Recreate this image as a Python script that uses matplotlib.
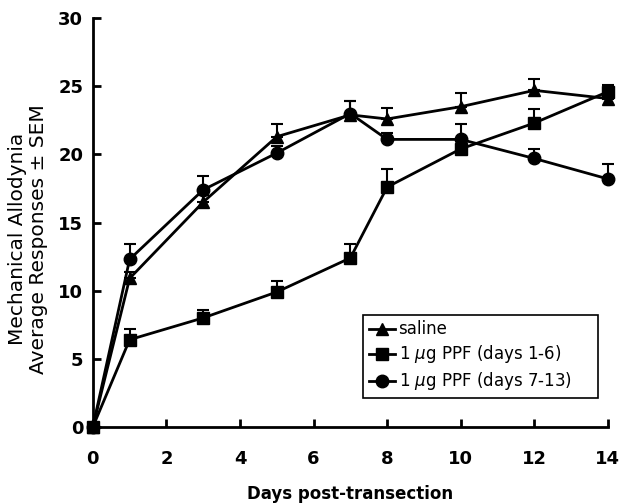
import matplotlib
matplotlib.use("Agg")
import matplotlib.pyplot as plt
import numpy as np

days = [0, 1, 3, 5, 7, 8, 10, 12, 14]
saline = [0, 10.9, 16.5, 21.3, 22.9, 22.6, 23.5, 24.7, 24.1]
saline_err = [0, 0.5, 0.5, 0.9, 1.0, 0.8, 1.0, 0.8, 0.5]
ppf_1_6 = [0, 6.4, 8.0, 9.9, 12.4, 17.6, 20.4, 22.3, 24.6]
ppf_1_6_err = [0, 0.8, 0.6, 0.8, 1.0, 1.3, 0.6, 1.0, 0.5]
ppf_7_13 = [0, 12.3, 17.4, 20.1, 23.0, 21.1, 21.1, 19.7, 18.2]
ppf_7_13_err = [0, 1.1, 1.0, 0.5, 0.9, 0.5, 1.1, 0.7, 1.1]

labels = ["saline", "1 $\\mu$g PPF (days 1-6)", "1 $\\mu$g PPF (days 7-13)"]

plt.rcParams['font.family'] = ['DejaVu Sans']
fig = plt.figure(figsize=(6.19, 5.04), dpi=100)
ax = fig.add_axes([0.150, 0.153, 0.832, 0.811])

series = [(saline, saline_err, '^', labels[0]),
          (ppf_1_6, ppf_1_6_err, 's', labels[1]),
          (ppf_7_13, ppf_7_13_err, 'o', labels[2])]
handles = []
for vals, err, m, lab in series:
    vals = np.array(vals); err = np.array(err)
    eb = ax.errorbar(days, vals, yerr=[np.zeros_like(err), err], fmt='-', marker=m,
                     color='black', markersize=9, linewidth=2, elinewidth=1.5,
                     capsize=4, capthick=1.5, label=lab)
    eb.lines[0].set_clip_on(False)
    for c in eb.lines[1]:
        c.set_clip_on(False)
    for c in eb.lines[2]:
        c.set_clip_on(False)
    handles.append(eb.lines[0])

ax.set_xlim(0, 14)
ax.set_ylim(0, 30)
ax.set_xticks(range(0, 15, 2))
ax.set_yticks(range(0, 31, 5))
for s in ['top', 'right']:
    ax.spines[s].set_visible(False)
for s in ['left', 'bottom']:
    ax.spines[s].set_linewidth(2)
ax.tick_params(direction='in', length=6, width=2, labelsize=13)
ax.tick_params(axis='y', pad=7)
ax.tick_params(axis='x', pad=17)
for t in ax.get_xticklabels() + ax.get_yticklabels():
    t.set_fontweight('bold')

ax.set_xlabel("Days post-transection", fontsize=12, fontweight='bold', labelpad=12)
ax.set_ylabel("Mechanical Allodynia\nAverage Responses \u00b1 SEM", fontsize=14.5,
              linespacing=1.15)
ax.yaxis.set_label_coords(-0.087, 0.46)

leg = ax.legend(handles, labels, loc='lower left', bbox_to_anchor=(0.524, 0.07, 0.456, 0.212),
                mode='expand', fontsize=12, handlelength=1.6, handletextpad=0.2,
                borderpad=0.35, labelspacing=0.3, fancybox=False, framealpha=1,
                edgecolor='black', borderaxespad=0)
leg.get_frame().set_linewidth(1.2)

fig.savefig("out.png", dpi=100)
